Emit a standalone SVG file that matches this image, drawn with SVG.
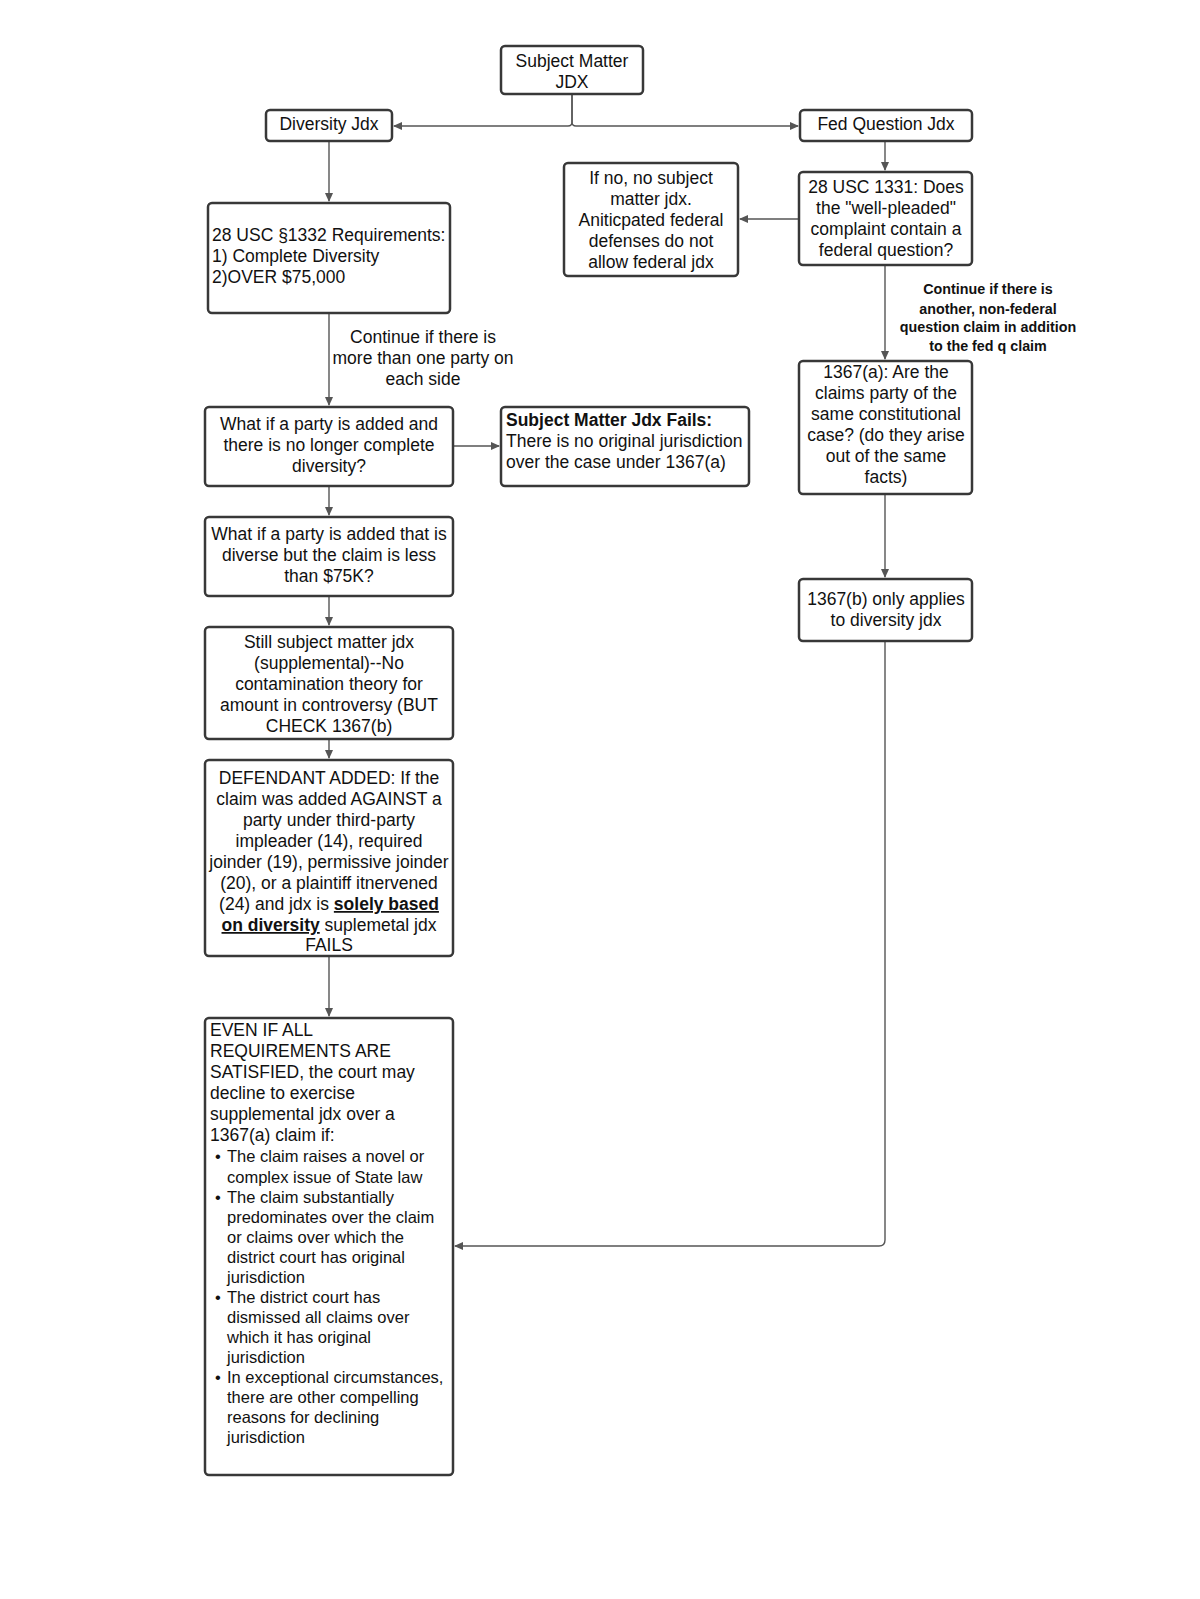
<svg xmlns="http://www.w3.org/2000/svg" width="1200" height="1599" viewBox="0 0 1200 1599">
<style>
.box{fill:#fff;stroke:#383838;stroke-width:2.5}
.t{font-family:"Liberation Sans",Arial,sans-serif;font-size:17.5px;fill:#111}
.c{text-anchor:middle}
.b{font-weight:bold}
.s{font-size:16.5px}
.lbl{font-family:"Liberation Sans",Arial,sans-serif;font-size:14.3px;font-weight:bold;fill:#111;text-anchor:middle}
.con{fill:none;stroke:#555;stroke-width:1.4}
</style>
<defs>
<marker id="arr" markerWidth="10" markerHeight="10" refX="8" refY="4" orient="auto" markerUnits="userSpaceOnUse">
<path d="M0,0 L9,4 L0,8 Z" fill="#555"/>
</marker>
</defs>
<rect width="1200" height="1599" fill="#fff"/>
<g id="connectors">
<path class="con" d="M572,94 V122 Q572,126 568,126 H394" marker-end="url(#arr)"/>
<path class="con" d="M572,94 V122 Q572,126 576,126 H798" marker-end="url(#arr)"/>
<path class="con" d="M329,141 V201" marker-end="url(#arr)"/>
<path class="con" d="M329,313 V405" marker-end="url(#arr)"/>
<path class="con" d="M453,446 H499" marker-end="url(#arr)"/>
<path class="con" d="M329,486 V515" marker-end="url(#arr)"/>
<path class="con" d="M329,596 V625" marker-end="url(#arr)"/>
<path class="con" d="M329,739 V758" marker-end="url(#arr)"/>
<path class="con" d="M329,956 V1016" marker-end="url(#arr)"/>
<path class="con" d="M885,141 V170" marker-end="url(#arr)"/>
<path class="con" d="M799,219 H740" marker-end="url(#arr)"/>
<path class="con" d="M885,265 V359" marker-end="url(#arr)"/>
<path class="con" d="M885,494 V577" marker-end="url(#arr)"/>
<path class="con" d="M885,641 V1240 Q885,1246 879,1246 H455" marker-end="url(#arr)"/>
</g>
<g id="labels">
<text class="t c" x="423"><tspan x="423" y="343">Continue if there is</tspan><tspan x="423" y="364">more than one party on</tspan><tspan x="423" y="385">each side</tspan></text>
<text class="lbl"><tspan x="988" y="294">Continue if there is</tspan><tspan x="988" y="314">another, non-federal</tspan><tspan x="988" y="332">question claim in addition</tspan><tspan x="988" y="351">to the fed q claim</tspan></text>
</g>
<g id="n_root">
<rect class="box" x="501" y="46" width="142" height="48" rx="4"/>
<text class="t c"><tspan x="572" y="67">Subject Matter</tspan><tspan x="572" y="88">JDX</tspan></text>
</g>
<g id="n_div">
<rect class="box" x="266" y="110" width="126" height="31" rx="4"/>
<text class="t c" x="329" y="130">Diversity Jdx</text>
</g>
<g id="n_fed">
<rect class="box" x="800" y="110" width="172" height="31" rx="4"/>
<text class="t c" x="886" y="130">Fed Question Jdx</text>
</g>
<g id="n_1332">
<rect class="box" x="208" y="203" width="242" height="110" rx="4"/>
<text class="t"><tspan x="212" y="241">28 USC §1332 Requirements:</tspan><tspan x="212" y="262">1) Complete Diversity</tspan><tspan x="212" y="283">2)OVER $75,000</tspan></text>
</g>
<g id="n_whatif1">
<rect class="box" x="205" y="407" width="248" height="79" rx="4"/>
<text class="t c"><tspan x="329" y="430">What if a party is added and</tspan><tspan x="329" y="451">there is no longer complete</tspan><tspan x="329" y="472">diversity?</tspan></text>
</g>
<g id="n_fails">
<rect class="box" x="501" y="407" width="248" height="79" rx="4"/>
<text class="t"><tspan x="506" y="426" class="b">Subject Matter Jdx Fails:</tspan><tspan x="506" y="447">There is no original jurisdiction</tspan><tspan x="506" y="468">over the case under 1367(a)</tspan></text>
</g>
<g id="n_whatif2">
<rect class="box" x="205" y="517" width="248" height="79" rx="4"/>
<text class="t c"><tspan x="329" y="540">What if a party is added that is</tspan><tspan x="329" y="561">diverse but the claim is less</tspan><tspan x="329" y="582">than $75K?</tspan></text>
</g>
<g id="n_still">
<rect class="box" x="205" y="627" width="248" height="112" rx="4"/>
<text class="t c"><tspan x="329" y="648">Still subject matter jdx</tspan><tspan x="329" y="669">(supplemental)--No</tspan><tspan x="329" y="690">contamination theory for</tspan><tspan x="329" y="711">amount in controversy (BUT</tspan><tspan x="329" y="732">CHECK 1367(b)</tspan></text>
</g>
<g id="n_defendant">
<rect class="box" x="205" y="760" width="248" height="196" rx="4"/>
<text class="t c"><tspan x="329" y="784">DEFENDANT ADDED: If the</tspan><tspan x="329" y="805">claim was added AGAINST a</tspan><tspan x="329" y="826">party under third-party</tspan><tspan x="329" y="847">impleader (14), required</tspan><tspan x="329" y="868">joinder (19), permissive joinder</tspan><tspan x="329" y="889">(20), or a plaintiff itnervened</tspan><tspan x="329" y="910">(24) and jdx is <tspan class="b" text-decoration="underline">solely based</tspan></tspan><tspan x="329" y="931"><tspan class="b" text-decoration="underline">on diversity</tspan> suplemetal jdx</tspan><tspan x="329" y="951">FAILS</tspan></text>
</g>
<g id="n_evenif">
<rect class="box" x="205" y="1018" width="248" height="457" rx="4"/>
<text class="t"><tspan x="210" y="1036">EVEN IF ALL</tspan><tspan x="210" y="1057">REQUIREMENTS ARE</tspan><tspan x="210" y="1078">SATISFIED, the court may</tspan><tspan x="210" y="1099">decline to exercise</tspan><tspan x="210" y="1120">supplemental jdx over a</tspan><tspan x="210" y="1141">1367(a) claim if:</tspan></text>
<text class="t s"><tspan x="215" y="1162">•</tspan><tspan x="215" y="1203">•</tspan><tspan x="215" y="1303">•</tspan><tspan x="215" y="1383">•</tspan></text>
<text class="t s"><tspan x="227" y="1162">The claim raises a novel or</tspan><tspan x="227" y="1183">complex issue of State law</tspan><tspan x="227" y="1203">The claim substantially</tspan><tspan x="227" y="1223">predominates over the claim</tspan><tspan x="227" y="1243">or claims over which the</tspan><tspan x="227" y="1263">district court has original</tspan><tspan x="227" y="1283">jurisdiction</tspan><tspan x="227" y="1303">The district court has</tspan><tspan x="227" y="1323">dismissed all claims over</tspan><tspan x="227" y="1343">which it has original</tspan><tspan x="227" y="1363">jurisdiction</tspan><tspan x="227" y="1383">In exceptional circumstances,</tspan><tspan x="227" y="1403">there are other compelling</tspan><tspan x="227" y="1423">reasons for declining</tspan><tspan x="227" y="1443">jurisdiction</tspan></text>
</g>
<g id="n_ifno">
<rect class="box" x="564" y="163" width="174" height="113" rx="4"/>
<text class="t c"><tspan x="651" y="184">If no, no subject</tspan><tspan x="651" y="205">matter jdx.</tspan><tspan x="651" y="226">Aniticpated federal</tspan><tspan x="651" y="247">defenses do not</tspan><tspan x="651" y="268">allow federal jdx</tspan></text>
</g>
<g id="n_1331">
<rect class="box" x="799" y="172" width="173" height="93" rx="4"/>
<text class="t c"><tspan x="886" y="193">28 USC 1331: Does</tspan><tspan x="886" y="214">the "well-pleaded"</tspan><tspan x="886" y="235">complaint contain a</tspan><tspan x="886" y="256">federal question?</tspan></text>
</g>
<g id="n_1367a">
<rect class="box" x="799" y="361" width="173" height="133" rx="4"/>
<text class="t c"><tspan x="886" y="378">1367(a): Are the</tspan><tspan x="886" y="399">claims party of the</tspan><tspan x="886" y="420">same constitutional</tspan><tspan x="886" y="441">case? (do they arise</tspan><tspan x="886" y="462">out of the same</tspan><tspan x="886" y="483">facts)</tspan></text>
</g>
<g id="n_1367b">
<rect class="box" x="799" y="579" width="173" height="62" rx="4"/>
<text class="t c"><tspan x="886" y="605">1367(b) only applies</tspan><tspan x="886" y="626">to diversity jdx</tspan></text>
</g>
</svg>
